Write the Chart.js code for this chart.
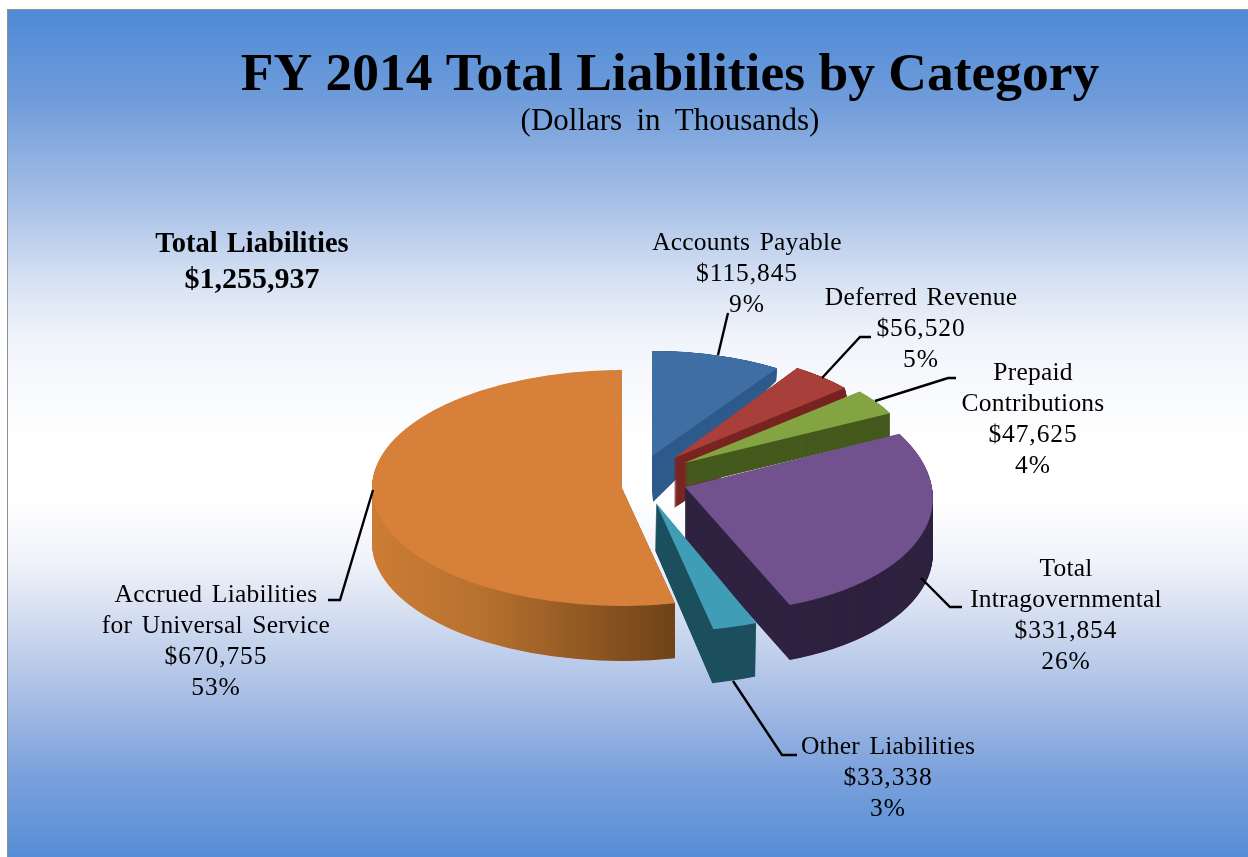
<!DOCTYPE html>
<html>
<head>
<meta charset="utf-8">
<style>html,body{margin:0;padding:0;background:#fff}canvas{display:block}</style>
<script src="https://cdn.jsdelivr.net/npm/chart.js@4"></script>
</head>
<body>
<canvas id="c" width="1248" height="857"></canvas>
<script>
const categories = ['Accounts Payable','Deferred Revenue','Prepaid Contributions','Total Intragovernmental','Other Liabilities','Accrued Liabilities for Universal Service'];
const values = [115845,56520,47625,331854,33338,670755];
const totalLabel = 'Total Liabilities';
const totalValue = '$1,255,937';
const titleText = 'FY 2014 Total Liabilities by Category';
const subtitleText = '(Dollars in Thousands)';

const topColors = ['#3f6ea5','#a83f3b','#84a444','#71528e','#3f9db5','#d7803a'];
const wallColors = ['#2e5a8c','#7a2623','#465a1e','#2f2240','#1d505e',null];
const labelLines = [['Accounts Payable'],['Deferred Revenue'],['Prepaid','Contributions'],['Total','Intragovernmental'],['Other Liabilities'],['Accrued Liabilities','for Universal Service']];
const labelPlace = [[747,243],[921,298],[1033,373],[1066,569],[888,747],[216,595]];
const leaders = [
  [[728,313],[718,355]],
  [[822,378],[860,337],[871,337]],
  [[875,401],[948,378],[956,378]],
  [[921,578],[950,607],[962,607]],
  [[733,681],[782,755],[797,755]],
  [[373,490],[340,600],[328,600]]
];
// per-slice view of the 3D pie: where the apex lands and how the flat disc is foreshortened
const topViews = [
  {ax:652,ay:456,sx:.913,sy:.42,kx:0,ky:0},
  {ax:674,ay:458,sx:.9,sy:.43,kx:0,ky:0},
  {ax:684,ay:463,sx:.925,sy:.44,kx:0,ky:0},
  {ax:685,ay:487,sx:.99,sy:.502,kx:.055,ky:.0167},
  {ax:656,ay:503,sx:1.08,sy:.517,kx:0,ky:0},
  {ax:622,ay:488,sx:1,sy:.472,kx:0,ky:0}
];
const baseViews = [
  {ax:653,ay:502,sx:.9,sy:.58,kx:0,ky:0},
  {ax:674,ay:508,sx:.91,sy:.549,kx:0,ky:-.118},
  {ax:684,ay:486.5,sx:.925,sy:.44,kx:0,ky:0},
  {ax:685,ay:542,sx:.99,sy:.502,kx:.055,ky:.0167},
  {ax:655,ay:550,sx:1.08,sy:.545,kx:0,ky:0},
  {ax:622,ay:543,sx:1,sy:.472,kx:0,ky:0}
];
const gradientStops = [[10,'#4f8ad6'],[100,'#6f9cda'],[200,'#a6bfe6'],[280,'#d6e1f3'],[340,'#f1f4fb'],[440,'#ffffff'],[500,'#ffffff'],[560,'#f1f3fa'],[620,'#d2dcf0'],[700,'#a6bce4'],[770,'#7da2dc'],[857,'#558ed5']];
const serif = '"Liberation Serif", serif';

function applyView(ctx, v, arc){
  ctx.translate(v.ax, v.ay);
  ctx.transform(v.sx, v.ky, v.kx, v.sy, 0, 0);
  ctx.translate(-arc.x, -arc.y);
}
let ArcProto = null;
function drawArcWith(ctx, arc, fill){
  const shim = Object.create(arc);
  shim.options = Object.assign({}, arc.options, {backgroundColor: fill, borderWidth: 0, offset: 0, spacing: 0});
  ArcProto.draw.call(shim, ctx);
}

const pagePlugin = {
  id:'page',
  beforeDraw(chart){
    const ctx = chart.ctx, W = chart.width, H = chart.height;
    ctx.save();
    ctx.fillStyle = '#fff'; ctx.fillRect(0,0,W,H);
    ctx.fillStyle = '#8f8f8f'; ctx.fillRect(7,9,W-7,H-9);
    const g = ctx.createLinearGradient(0,10,0,H);
    gradientStops.forEach(s=>g.addColorStop((s[0]-10)/(H-10),s[1]));
    ctx.fillStyle = g; ctx.fillRect(8,10,W-8,H-10);
    ctx.restore();
  }
};
const pie3d = {
  id:'pie3d',
  beforeDatasetDraw(chart, args){
    const ctx = chart.ctx;
    const arcs = chart.getDatasetMeta(args.index).data;
    ArcProto = Object.getPrototypeOf(arcs[0]);
    arcs.forEach((arc,i)=>{
      const T = topViews[i], B = baseViews[i];
      const steps = Math.ceil(Math.abs(B.ay-T.ay)*2);
      const keys = ['ax','ay','sx','sy','kx','ky'];
      for(let s=steps; s>=1; s--){
        const t = s/steps, v = {};
        keys.forEach(k=>v[k]=T[k]+(B[k]-T[k])*t);
        ctx.save();
        applyView(ctx,v,arc);
        let fill = wallColors[i];
        if(!fill){
          const lx = X => arc.x + (X - v.ax)/v.sx;
          fill = ctx.createLinearGradient(lx(373),0,lx(675),0);
          fill.addColorStop(0,'#cc7c35');
          fill.addColorStop(.35,'#b8722f');
          fill.addColorStop(1,'#6f4218');
        }
        drawArcWith(ctx,arc,fill);
        ctx.restore();
      }
      ctx.save();
      applyView(ctx,T,arc);
      drawArcWith(ctx,arc,topColors[i]);
      ctx.restore();
    });
    return false;
  }
};
const annotate = {
  id:'annotate',
  afterDraw(chart){
    const ctx = chart.ctx;
    const total = values.reduce((a,b)=>a+b,0);
    ctx.save();
    ctx.strokeStyle = '#000'; ctx.lineWidth = 2.4; ctx.lineJoin='miter';
    leaders.forEach(pts=>{
      ctx.beginPath();
      pts.forEach((p,i)=> i? ctx.lineTo(p[0],p[1]) : ctx.moveTo(p[0],p[1]));
      ctx.stroke();
    });
    ctx.fillStyle = '#000'; ctx.textAlign='center'; ctx.textBaseline='middle';
    ctx.font = '25.5px '+serif;
    const step = 31;
    values.forEach((val,i)=>{
      const names = labelLines[i];
      ctx.letterSpacing = '0.2px'; ctx.wordSpacing = '3px';
      names.forEach((ln,j)=> ctx.fillText(ln,labelPlace[i][0],labelPlace[i][1]+j*step));
      ctx.letterSpacing = '0.9px'; ctx.wordSpacing = '0px';
      ['$'+val.toLocaleString('en-US'), Math.round(val/total*100)+'%'].forEach((ln,j)=>
        ctx.fillText(ln,labelPlace[i][0],labelPlace[i][1]+(names.length+j)*step));
    });
    ctx.letterSpacing = '0px'; ctx.wordSpacing = '2px';
    ctx.font = 'bold 28.5px '+serif;
    ctx.fillText(totalLabel,252,245);
    ctx.wordSpacing = '0px';
    ctx.font = 'bold 30px '+serif;
    ctx.fillText(totalValue,252,280);
    ctx.wordSpacing = '6.5px';
    ctx.font = '31px '+serif;
    ctx.fillText(subtitleText,670,122);
    ctx.restore();
  }
};
new Chart(document.getElementById('c').getContext('2d'),{
  type:'pie',
  data:{labels:categories,datasets:[{data:values,backgroundColor:topColors,borderWidth:0,offset:0,clip:false}]},
  plugins:[pagePlugin,pie3d,annotate],
  options:{
    responsive:false,
    animation:false,
    radius:250,
    rotation:0,
    layout:{padding:{left:92,top:44}},
    events:[],
    plugins:{
      legend:{display:false},
      tooltip:{enabled:false},
      title:{display:true,text:titleText,color:'#000',fullSize:false,font:{family:serif,size:53.5,weight:'bold'},padding:{top:0,bottom:0}}
    }
  }
});
</script>
</body>
</html>
